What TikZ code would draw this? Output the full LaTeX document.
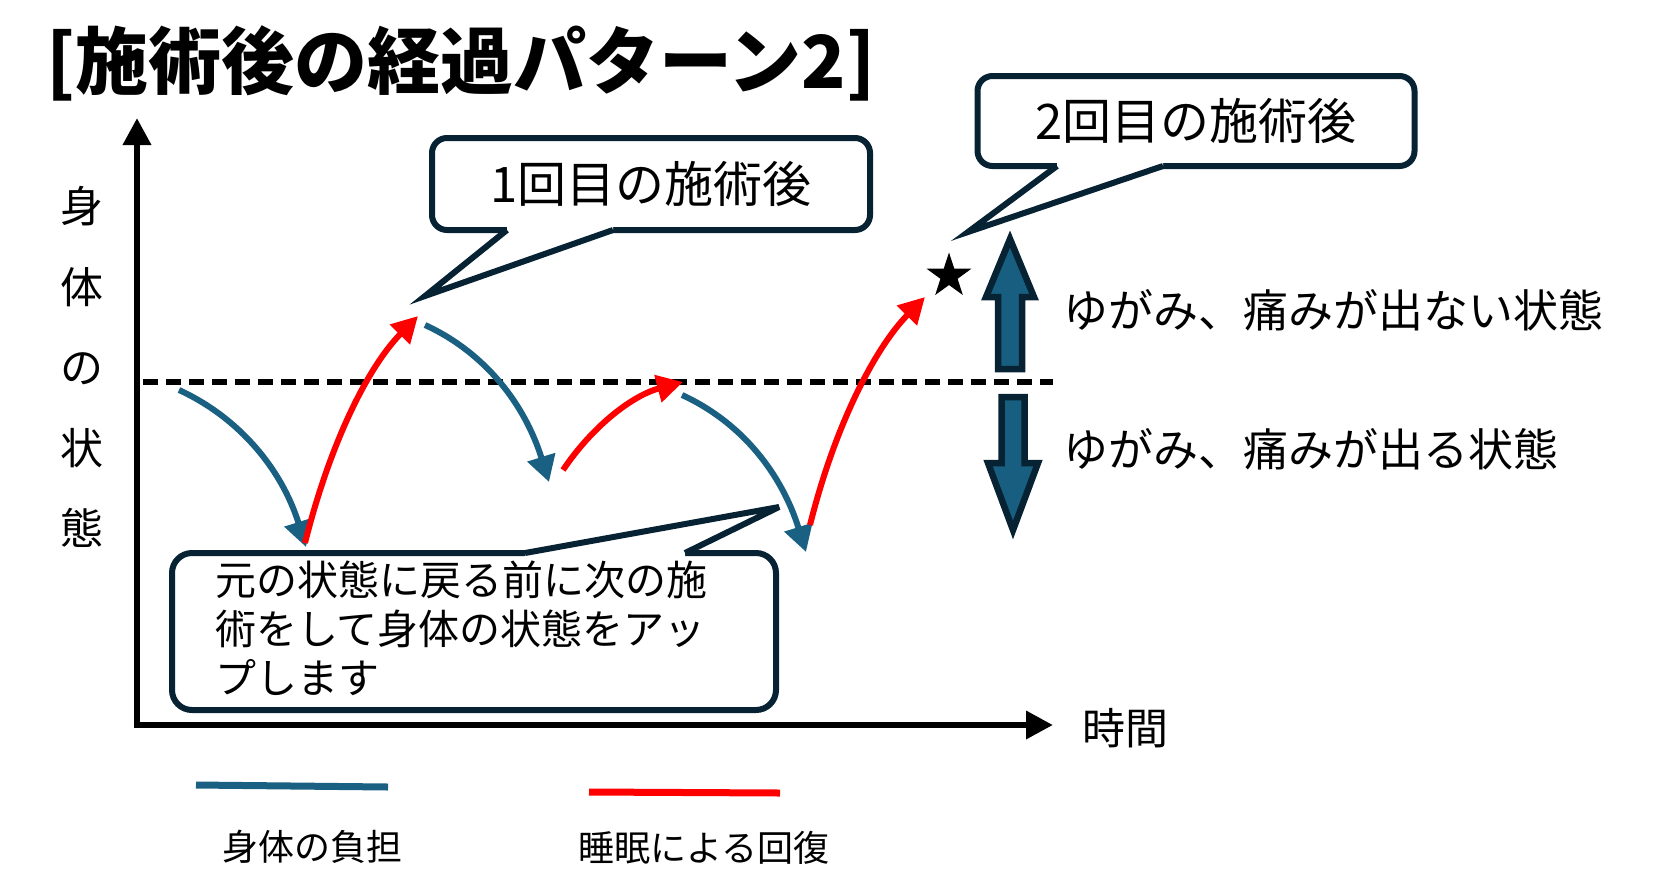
\documentclass[tikz,border=0pt]{standalone}
\usepackage{fontspec}
\setmainfont{Noto Sans CJK JP}
\usetikzlibrary{arrows.meta,shapes.geometric,calc}
\definecolor{loadblue}{RGB}{26,96,130}
\definecolor{fillblue}{RGB}{23,94,128}
\definecolor{navy}{RGB}{6,34,51}
\definecolor{restred}{RGB}{255,0,0}
\begin{document}
\begin{tikzpicture}[x=1pt,y=-1pt,
  lbl/.style={inner sep=0pt,outer sep=0pt,text=black},
  bubble/.style={draw=navy,line width=6pt,fill=white,rounded corners=15pt,inner sep=0pt},
  pointer/.style={draw=navy,line width=6pt,line join=miter},
  loadarc/.style={draw=loadblue,line width=6pt,-{Triangle[length=26pt,width=28pt]}},
  restarc/.style={draw=restred,line width=6pt,-{Triangle[length=26pt,width=27pt]}},
  axisline/.style={draw=black,line width=6.5pt,line cap=rect,-{Triangle[length=27pt,width=27pt]}},
  blockarrow/.style={fill=fillblue,draw=navy,line width=6.5pt,line join=miter},
  legendline/.style={line width=7pt},
  dashline/.style={draw=black,line width=6pt,dash pattern=on 15pt off 8pt},
]
\useasboundingbox (0,0) rectangle (1656,892);

% title
\node[lbl,font=\bfseries\fontsize{73}{73}\selectfont] (title) at (461,63) {[施術後の経過パターン2]};

% axes
\coordinate (origin) at (137,725);
\coordinate (ytip) at (137,118);
\coordinate (xtip) at (1053,725);
\draw[axisline] (origin) -- (ytip);
\draw[axisline] (origin) -- (xtip);
\node[lbl,font=\fontsize{43}{43}\selectfont] (xlabel) at (1125,728) {時間};
\node[lbl,font=\fontsize{43}{80.5}\selectfont,align=center] (ylabel) at (82,367) {身\\体\\の\\状\\態};

% threshold
\coordinate (dashL) at (143,382); \coordinate (dashR) at (1053,382);
\draw[dashline] (dashL) -- (dashR);

% curved arrows
\coordinate (b1s) at (179,390); \coordinate (b1e) at (306,547);
\coordinate (r1s) at (305,543); \coordinate (r1e) at (418,316);
\coordinate (b2s) at (425,325); \coordinate (b2e) at (549,482);
\coordinate (r2s) at (563,470); \coordinate (r2e) at (683,382);
\coordinate (b3s) at (682,395); \coordinate (b3e) at (806,552);
\coordinate (r3s) at (810,525); \coordinate (r3e) at (925,297);
\draw[loadarc] (b1s) .. controls +(61,28) and +(-24,-77) .. (b1e);
\draw[restarc] (r1s) .. controls +(25,-100) and +(-50,51) .. (r1e);
\draw[loadarc] (b2s) .. controls +(61,28) and +(-24,-77) .. (b2e);
\draw[restarc] (r2s) .. controls +(31,-46) and +(-49,13) .. (r2e);
\draw[loadarc] (b3s) .. controls +(61,28) and +(-24,-77) .. (b3e);
\draw[restarc] (r3s) .. controls +(25,-100) and +(-50,51) .. (r3e);

% block arrows
\draw[blockarrow] (1010,239) -- (1034,297) -- (1022,297) -- (1022,369) -- (998,369) -- (998,297) -- (986,297) -- cycle;
\draw[blockarrow] (1001.5,397) -- (1024.5,397) -- (1024.5,463) -- (1038,463) -- (1013,530) -- (988,463) -- (1001.5,463) -- cycle;

% star
\node[star,star points=5,star point ratio=2.6,fill=black,minimum size=47pt,inner sep=0pt] (star) at (949,276) {};

% state labels
\node[lbl,anchor=west,font=\fontsize{45}{45}\selectfont] (okstate) at (1063,310) {ゆがみ、痛みが出ない状態};
\node[lbl,anchor=west,font=\fontsize{45}{45}\selectfont] (ngstate) at (1063,449) {ゆがみ、痛みが出る状態};

% callout 1
\node[bubble,minimum width=438pt,minimum height=92pt,font=\fontsize{49}{49}\selectfont] (c1) at (651,184) {1回目の施術後};
\coordinate (c1a) at (507,230); \coordinate (c1b) at (613,230); \coordinate (c1p) at (425,296);
\fill[white] ($(c1a)+(0,-4)$) -- (c1a) -- (c1p) -- (c1b) -- ($(c1b)+(0,-4)$) -- cycle;
\draw[pointer] (c1a) -- (c1p) -- (c1b);

% callout 2
\node[bubble,minimum width=437pt,minimum height=90pt,font=\fontsize{49}{49}\selectfont] (c2) at (1196,121) {2回目の施術後};
\coordinate (c2a) at (1057,166); \coordinate (c2b) at (1163,166); \coordinate (c2p) at (968,232);
\fill[white] ($(c2a)+(0,-4)$) -- (c2a) -- (c2p) -- (c2b) -- ($(c2b)+(0,-4)$) -- cycle;
\draw[pointer] (c2a) -- (c2p) -- (c2b);

% callout 3
\node[bubble,rounded corners=20pt,minimum width=604pt,minimum height=157pt] (c3) at (474,631.5) {};
\coordinate (c3a) at (525,553); \coordinate (c3b) at (685,553); \coordinate (c3p) at (779,507);
\fill[white] ($(c3a)+(0,4)$) -- (c3a) -- (c3p) -- (c3b) -- ($(c3b)+(0,4)$) -- cycle;
\draw[pointer,line join=bevel] (c3a) -- (c3p) -- (c3b);
\node[lbl,align=left,anchor=west,font=\fontsize{41}{49}\selectfont] (c3t) at (215,628) {元の状態に戻る前に次の施\\術をして身体の状態をアッ\\プします};

% legend
\coordinate (lb1) at (196,785); \coordinate (lb2) at (388,787);
\coordinate (lr1) at (589,792); \coordinate (lr2) at (780,793);
\draw[loadblue,legendline] (lb1) -- (lb2);
\draw[restred,legendline] (lr1) -- (lr2);
\node[lbl,font=\fontsize{36}{36}\selectfont] (loadlbl) at (312,847) {身体の負担};
\node[lbl,font=\fontsize{36}{36}\selectfont] (restlbl) at (704,848) {睡眠による回復};
\end{tikzpicture}
\end{document}
